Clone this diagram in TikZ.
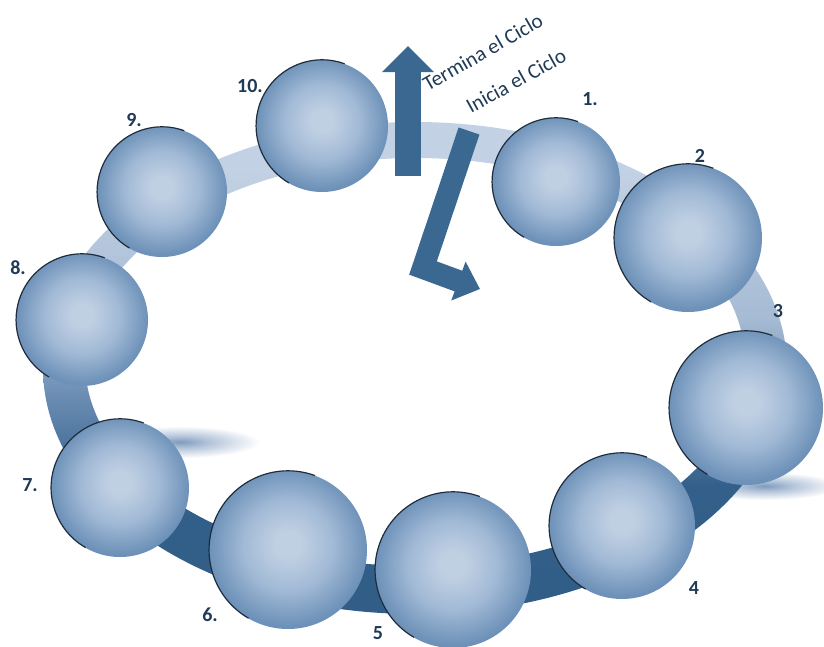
\documentclass[tikz,border=0pt]{standalone}
\usepackage{fontspec}
\setmainfont{Carlito}
\usetikzlibrary{arrows.meta}
\definecolor{sphC}{HTML}{C0D0E3}
\definecolor{sphM}{HTML}{A2BAD6}
\definecolor{sphE}{HTML}{6D91B8}
\definecolor{bandD}{HTML}{2C5880}
\definecolor{bandD2}{HTML}{33608A}
\definecolor{bandM}{HTML}{6A8CB3}
\definecolor{bandL1}{HTML}{A6BBD4}
\definecolor{bandL}{HTML}{C2D1E3}
\definecolor{shadC}{HTML}{7F9BBD}
\definecolor{shadC2}{HTML}{B3C4D9}
\definecolor{rimC}{HTML}{1E2C3C}
\definecolor{numC}{HTML}{1F3A57}
\definecolor{arrC}{HTML}{3A6891}
\pgfdeclareradialshading{sph}{\pgfpoint{0bp}{2bp}}{color(0bp)=(sphC); color(4bp)=(sphC); color(14bp)=(sphM); color(25bp)=(sphE); color(50bp)=(sphE)}
\pgfdeclareverticalshading{bandsh}{100bp}{color(0bp)=(bandD); color(38bp)=(bandD2); color(47bp)=(bandM); color(55bp)=(bandL1); color(70bp)=(bandL); color(100bp)=(bandL)}
\pgfdeclareradialshading{shad}{\pgfpointorigin}{color(0bp)=(shadC); color(9bp)=(shadC2); color(25bp)=(white); color(50bp)=(white)}
\begin{document}
\begin{tikzpicture}[x=1pt,y=1pt,
  sphere/.style={circle, inner sep=0pt, shading=sph},
  rim/.style={draw=rimC, line width=1.2pt},
  num/.style={font=\fontsize{20}{20}\selectfont\bfseries, text=numC, inner sep=0pt},
  captxt/.style={font=\fontsize{21}{21}\selectfont, text=numC, inner sep=0pt, anchor=base west},
  arr/.style={draw=arrC}
]
\useasboundingbox (0,0) rectangle (824,-646);
% shadows
\shade[shading=shad] (180,-442) ellipse[x radius=80, y radius=16];
\shade[shading=shad] (765,-486) ellipse[x radius=75, y radius=14];
% ring band
\shade[shading=bandsh, even odd rule] (415,-368) ellipse[x radius=372, y radius=246] (415,-362) ellipse[x radius=330, y radius=204];
% arrows
\coordinate (upS) at (408,-176);
\coordinate (upE) at (408,-46);
\draw[arr, line width=26pt, -{Triangle[width=50pt,length=26pt]}] (upS) -- (upE);
\coordinate (bA) at (469,-131);
\coordinate (bB) at (423,-268);
\coordinate (bC) at (480,-289);
\draw[arr, line width=22pt, miter limit=10, -{Triangle[width=40pt,length=23pt]}] (bA) -- (bB) -- (bC);
% captions
\node[captxt, rotate=30] (tc) at (428,-92) {Termina el Ciclo};
\node[captxt, rotate=29] (ic) at (471,-114) {Inicia el Ciclo};
% spheres
\foreach \n/\x/\y/\r in {1/556/182/64, 2/688/238/74, 3/746/408/77, 4/622/526/73, 5/453/570/78, 6/288/550/79, 7/120/488/69, 8/82/320/66, 9/162/192/65, 10/322/126/66}{
  \node[sphere, minimum size={2*\r pt}] (s\n) at (\x,-\y) {};
  \draw[rim] (s\n.70) arc[start angle=70, end angle=240, radius=\r];
}
% labels
\node[num] (l1) at (590,-99) {1.};
\node[num] (l2) at (700,-156) {2};
\node[num] (l3) at (778,-311) {3};
\node[num] (l4) at (694,-588) {4};
\node[num] (l5) at (378,-633) {5};
\node[num] (l6) at (210,-615) {6.};
\node[num] (l7) at (30,-485) {7.};
\node[num] (l8) at (18,-268) {8.};
\node[num] (l9) at (134,-120) {9.};
\node[num] (l10) at (250,-86) {10.};
\end{tikzpicture}
\end{document}
